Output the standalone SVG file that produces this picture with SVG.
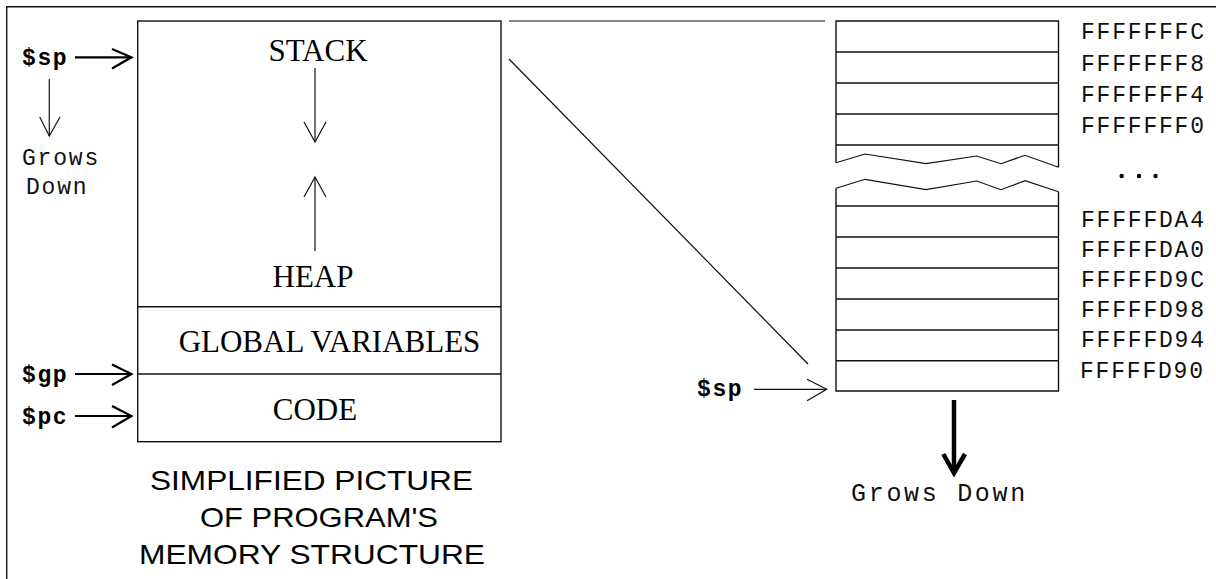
<svg xmlns="http://www.w3.org/2000/svg" width="1216" height="579" viewBox="0 0 1216 579">
  <style>
    .ln{fill:none;stroke:#111;stroke-width:1.4}
    .thin{fill:none;stroke:#111;stroke-width:1.2}
    .bold{fill:none;stroke:#000;stroke-width:2.2}
    .heavy{fill:none;stroke:#000;stroke-width:4.5}
    .serif{font-family:"Liberation Serif","Times New Roman",serif;font-size:31px;fill:#000}
    .mono{font-family:"Liberation Mono","Courier New",monospace;font-size:23px;letter-spacing:1.8px;fill:#111}
    .reg{font-family:"Liberation Mono","Courier New",monospace;font-size:23px;font-weight:bold;letter-spacing:1.6px;fill:#000}
    .cap{font-family:"Liberation Sans",Arial,sans-serif;font-size:28px;fill:#000}
  </style>

  <rect width="1216" height="579" fill="#fff"/>

  <!-- page frame: top and left edges only -->
  <path class="ln" d="M6.7,579 V6.7 H1216"/>

  <!-- program memory layout -->
  <g id="memory-map">
    <rect class="ln" x="137.7" y="21" width="363.3" height="420.7"/>
    <line class="ln" x1="137.7" y1="306.7" x2="501" y2="306.7"/>
    <line class="ln" x1="137.7" y1="374" x2="501" y2="374"/>
    <text class="serif" x="318" y="61" text-anchor="middle">STACK</text>
    <text class="serif" x="313" y="287" text-anchor="middle">HEAP</text>
    <text class="serif" x="329.5" y="351.5" text-anchor="middle">GLOBAL VARIABLES</text>
    <text class="serif" x="315" y="420" text-anchor="middle">CODE</text>
  </g>

  <!-- register labels on the left -->
  <g id="reg-sp-left">
    <text class="reg" x="22" y="65">$sp</text>
  </g>
  <g id="reg-gp">
    <text class="reg" x="22" y="382">$gp</text>
  </g>
  <g id="reg-pc">
    <text class="reg" x="22" y="424">$pc</text>
  </g>
  <g id="grows-left">
    <text class="mono" x="22" y="165">Grows</text>
    <text class="mono" x="26" y="194">Down</text>
  </g>

  <!-- stack detail on the right -->
  <g id="stack-detail">
    <!-- upper frames -->
    <path class="ln" d="M836,162.7 V21 H1058.5 V167.3"/>
    <line class="ln" x1="836" y1="52" x2="1058.5" y2="52"/>
    <line class="ln" x1="836" y1="83" x2="1058.5" y2="83"/>
    <line class="ln" x1="836" y1="114" x2="1058.5" y2="114"/>
    <line class="ln" x1="836" y1="145" x2="1058.5" y2="145"/>
    <!-- torn edges -->
    <polyline class="thin" points="836,162.7 865,154 926,163.7 976.7,156 1001,163.7 1025,155.3 1058.5,167.3"/>
    <polyline class="thin" points="836,188.3 865,179.3 926,189.7 976.7,181 1001,189.7 1025,180.7 1058.5,191.7"/>
    <!-- lower frames -->
    <path class="ln" d="M836,188.3 V391 H1058.5 V191.7"/>
    <line class="ln" x1="836" y1="206" x2="1058.5" y2="206"/>
    <line class="ln" x1="836" y1="237" x2="1058.5" y2="237"/>
    <line class="ln" x1="836" y1="268" x2="1058.5" y2="268"/>
    <line class="ln" x1="836" y1="299" x2="1058.5" y2="299"/>
    <line class="ln" x1="836" y1="330" x2="1058.5" y2="330"/>
    <line class="ln" x1="836" y1="360.7" x2="1058.5" y2="360.7"/>
  </g>

  <g id="addresses">
    <text class="mono" x="1081" y="39">FFFFFFFC</text>
    <text class="mono" x="1081" y="71">FFFFFFF8</text>
    <text class="mono" x="1081" y="102">FFFFFFF4</text>
    <text class="mono" x="1081" y="133">FFFFFFF0</text>
    <circle cx="1121.7" cy="176" r="2.2" fill="#000"/>
    <circle cx="1139" cy="176" r="2.2" fill="#000"/>
    <circle cx="1155.5" cy="176" r="2.2" fill="#000"/>
    <text class="mono" x="1081" y="227">FFFFFDA4</text>
    <text class="mono" x="1081" y="257">FFFFFDA0</text>
    <text class="mono" x="1081" y="287">FFFFFD9C</text>
    <text class="mono" x="1081" y="317">FFFFFD98</text>
    <text class="mono" x="1081" y="347">FFFFFD94</text>
    <text class="mono" x="1080" y="378">FFFFFD90</text>
  </g>

  <g id="reg-sp-right">
    <text class="reg" x="697" y="396">$sp</text>
  </g>
  <g id="grows-right">
    <text class="mono" x="851" y="501" style="font-size:25px" textLength="176">Grows Down</text>
  </g>

  <!-- caption -->
  <g id="caption">
    <text class="cap" x="150" y="490" textLength="323" lengthAdjust="spacingAndGlyphs">SIMPLIFIED PICTURE</text>
    <text class="cap" x="200" y="527" textLength="238" lengthAdjust="spacingAndGlyphs">OF PROGRAM'S</text>
    <text class="cap" x="139" y="564" textLength="346" lengthAdjust="spacingAndGlyphs">MEMORY STRUCTURE</text>
  </g>

  <!-- connectors -->
  <g id="connectors">
    <!-- register pointers -->
    <line class="bold" x1="75" y1="57.3" x2="131" y2="57.3"/>
    <polyline class="bold" points="112,49 131.5,57.3 112,68.5"/>
    <line class="bold" x1="75" y1="374" x2="131" y2="374"/>
    <polyline class="bold" points="112,364.5 131.5,374 112,385"/>
    <line class="bold" x1="75" y1="416" x2="131" y2="416"/>
    <polyline class="bold" points="112,406 131.5,416 112,427.5"/>
    <!-- growth direction, left -->
    <line class="thin" x1="49.3" y1="79" x2="49.3" y2="136"/>
    <polyline class="thin" points="39.7,117 49.3,136 60,117"/>
    <!-- stack / heap growth inside memory map -->
    <line class="thin" x1="315" y1="68" x2="315" y2="142"/>
    <polyline class="thin" points="304,122 315,142 326,122"/>
    <line class="thin" x1="315" y1="251" x2="315" y2="177"/>
    <polyline class="thin" points="304,197 315,177 326,197"/>
    <!-- zoom guides from stack to detail -->
    <line class="thin" x1="509" y1="21" x2="825" y2="21"/>
    <line class="thin" x1="509" y1="59" x2="808" y2="364"/>
    <!-- $sp pointer, right -->
    <line class="thin" x1="754" y1="389.3" x2="826" y2="389.3"/>
    <polyline class="thin" points="807,379.3 826.7,389.3 807,400.7"/>
    <!-- growth direction, right -->
    <line class="heavy" x1="954" y1="400" x2="954" y2="472"/>
    <polyline class="heavy" points="943.3,454 954,473 965,454"/>
  </g>
</svg>
